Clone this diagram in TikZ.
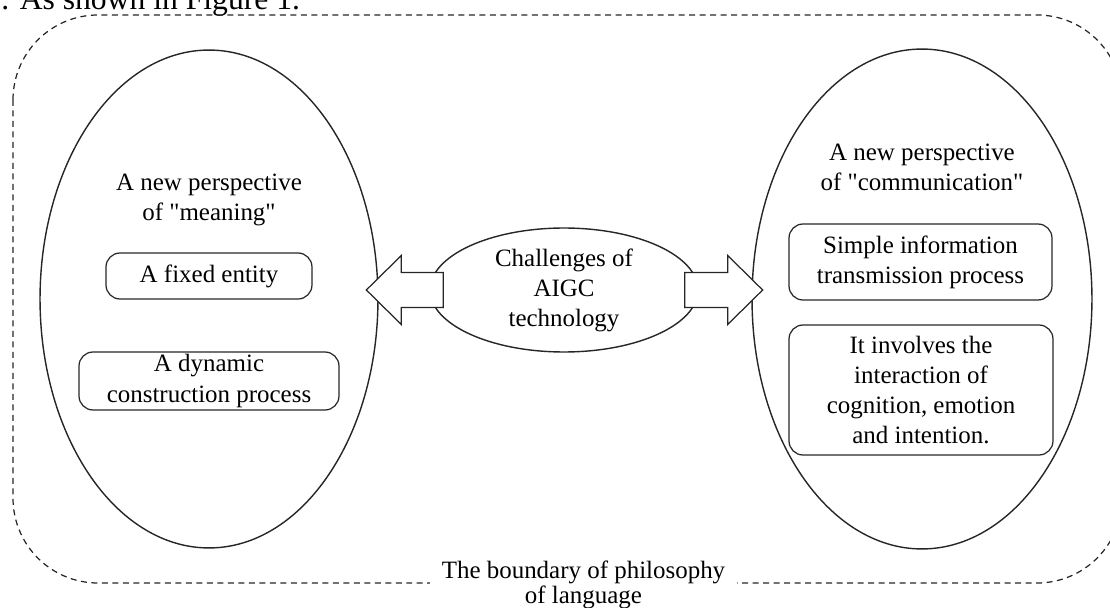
\documentclass[tikz,border=0pt]{standalone}
\usepackage{fontspec}
\setmainfont{Liberation Serif}
\usetikzlibrary{calc,shapes.geometric}

\tikzset{
  bound/.style={draw=black!85, line width=0.7pt, dash pattern=on 0.12cm off 0.09cm, rounded corners=1.7cm},
  oval/.style={draw=black!85, line width=0.8pt, ellipse, inner sep=0pt},
  rbox/.style={draw=black!85, line width=0.7pt, rounded corners=0.28cm, align=center, inner sep=0pt,
    font=\fontsize{14.2}{17.1}\selectfont},
  txt/.style={align=center, inner sep=0pt, font=\fontsize{14.2}{17.1}\selectfont},
  leadtxt/.style={inner sep=0pt, font=\fontsize{18}{22}\selectfont},
  blockarrow/.style={draw=black!85, line width=0.7pt, fill=white},
}

\begin{document}
\begin{tikzpicture}[x=0.02cm, y=-0.02cm]
  \clip (0,0) rectangle (1110,608);
  % running text cut off above the figure
  \node[leadtxt, anchor=base west] (lead) at (1,9.5) {. As shown in Figure 1.};

  \draw[bound] (13,15) rectangle (1122,583);

  \node[oval, minimum width=6.76cm, minimum height=9.96cm] (meaning) at (209,299) {};
  \node[oval, minimum width=6.8cm, minimum height=10cm] (comm) at (922,299) {};
  \node[oval, minimum width=5.36cm, minimum height=2.48cm] (aigc) at (564,290) {};
  \node[txt] (aigctxt) at (aigc) {Challenges of\\AIGC\\technology};

  %block arrows out of the middle
  \draw[blockarrow] ($(aigc.west)+(14,-17.5)$) -- ++(-42,0) -- ++(0,-17) -- ($(aigc.west)+(-63,0)$)
    -- ($(aigc.west)+(-28,34.5)$) -- ++(0,-17) -- ($(aigc.west)+(14,17.5)$) -- cycle;
  \draw[blockarrow] ($(aigc.east)+(-14,-17.5)$) -- ++(43,0) -- ++(0,-17) -- ($(aigc.east)+(64,0)$)
    -- ($(aigc.east)+(29,34.5)$) -- ++(0,-17) -- ($(aigc.east)+(-14,17.5)$) -- cycle;

  %left side
  \node[txt] (mtitle) at (209,200) {A new perspective\\of \textquotedbl meaning\textquotedbl};
  \node[rbox, minimum width=4.12cm, minimum height=0.92cm] (fixed) at (209,276) {A fixed entity};
  \node[rbox, minimum width=5.2cm, minimum height=1.16cm] (dynamic) at (209,381) {A dynamic\\construction process};

  %right side
  \node[txt] (ctitle) at (922,167) {A new perspective\\of \textquotedbl communication\textquotedbl};
  \node[rbox, minimum width=5.26cm, minimum height=1.52cm] (simple) at (920.5,262) {Simple information\\transmission process};
  \node[rbox, minimum width=5.28cm, minimum height=2.6cm] (involves) at (921,390) {It involves the\\interaction of\\cognition, emotion\\and intention.};

  \node[txt, fill=white, inner xsep=0.24cm, inner ysep=0.1cm, font=\fontsize{14.2}{14.2}\selectfont] (boundlbl) at (583.5,585) {The boundary of philosophy\\of language};
\end{tikzpicture}
\end{document}
